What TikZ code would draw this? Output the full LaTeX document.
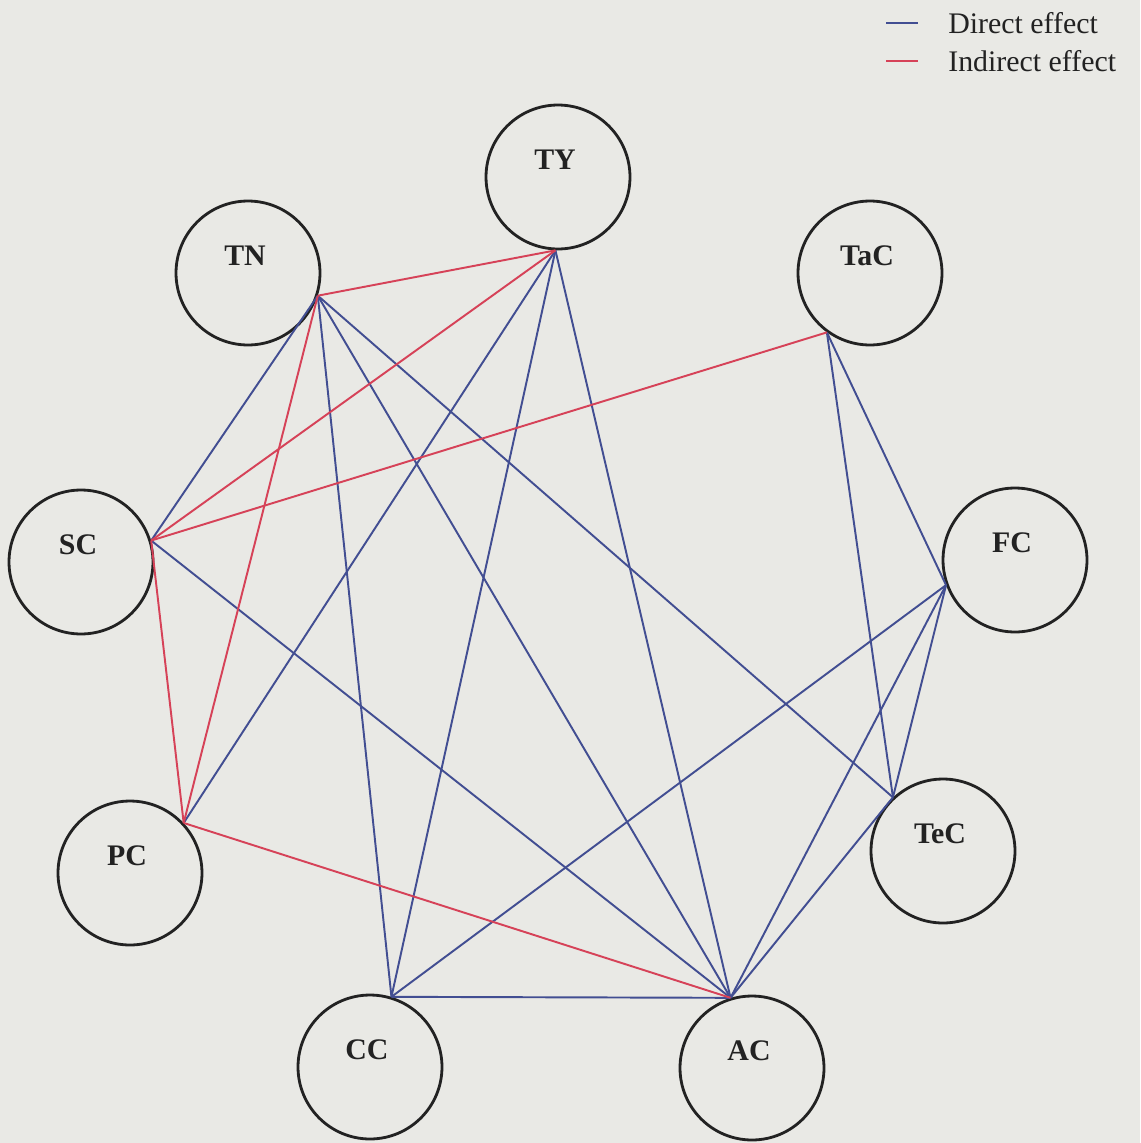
\documentclass[tikz,border=0pt]{standalone}
\usepackage{fontspec}
\setmainfont{Liberation Serif}
\definecolor{paper}{RGB}{233,233,229}
\definecolor{dirblue}{RGB}{66,78,146}
\definecolor{indred}{RGB}{214,66,88}
\definecolor{ink}{RGB}{34,34,34}
\begin{document}
\begin{tikzpicture}[x=0.02cm,y=-0.02cm,factor/.style={shape=circle,draw=ink,line width=1.6pt,minimum size=2.88cm,inner sep=0pt},factorlabel/.style={font=\fontsize{17}{20}\selectfont\bfseries,text=ink,yshift=0.34cm,xshift=-0.06cm},direct/.style={draw=dirblue,line width=1.1pt},indirect/.style={draw=indred,line width=1.1pt},key/.style={font=\fontsize{17}{20}\selectfont,text=ink,anchor=base west,inner sep=0pt}]

\fill[paper] (0,0) rectangle (1140,1143);
\useasboundingbox (0,0) rectangle (1140,1143);

\node[factor,label={[factorlabel]center:TY}] (TY) at (558,177) {};
\node[factor,label={[factorlabel]center:TN}] (TN) at (248,273) {};
\node[factor,label={[factorlabel]center:TaC}] (TaC) at (870,273) {};
\node[factor,label={[factorlabel]center:SC}] (SC) at (81,562) {};
\node[factor,label={[factorlabel]center:FC}] (FC) at (1015,560) {};
\node[factor,label={[factorlabel]center:PC}] (PC) at (130,873) {};
\node[factor,label={[factorlabel]center:TeC}] (TeC) at (943,851) {};
\node[factor,label={[factorlabel]center:CC}] (CC) at (370,1067) {};
\node[factor,label={[factorlabel]center:AC}] (AC) at (752,1068) {};

% direct effects
\draw[direct] (TN.-18) -- (SC.17);
\draw[direct] (TN.-18) -- (CC.73);
\draw[direct] (TN.-18) -- (AC.107);
\draw[direct] (TN.-18) -- (TeC.133);
\draw[direct] (TY.-92) -- (PC.43);
\draw[direct] (TY.-92) -- (CC.73);
\draw[direct] (TY.-92) -- (AC.107);
\draw[direct] (SC.17) -- (AC.107);
\draw[direct] (TaC.-126) -- (FC.-160);
\draw[direct] (TaC.-126) -- (TeC.133);
\draw[direct] (FC.-160) -- (TeC.133);
\draw[direct] (FC.-160) -- (CC.73);
\draw[direct] (FC.-160) -- (AC.107);
\draw[direct] (TeC.133) -- (AC.107);
\draw[direct] (CC.73) -- (AC.107);

% indirect effects
\draw[indirect] (TN.-18) -- (TY.-92);
\draw[indirect] (SC.17) -- (TY.-92);
\draw[indirect] (SC.17) -- (TaC.-126);
\draw[indirect] (SC.17) -- (PC.43);
\draw[indirect] (TN.-18) -- (PC.43);
\draw[indirect] (PC.43) -- (AC.107);

% legend
\coordinate (kd1) at (886,23);
\coordinate (kd2) at (918,23);
\draw[direct,line width=1.4pt] (kd1) -- (kd2);
\node[key] (kdtext) at (948,33) {Direct effect};
\coordinate (ki1) at (886,61);
\coordinate (ki2) at (918,61);
\draw[indirect,line width=1.4pt] (ki1) -- (ki2);
\node[key] (kitext) at (948,71) {Indirect effect};
\end{tikzpicture}
\end{document}
